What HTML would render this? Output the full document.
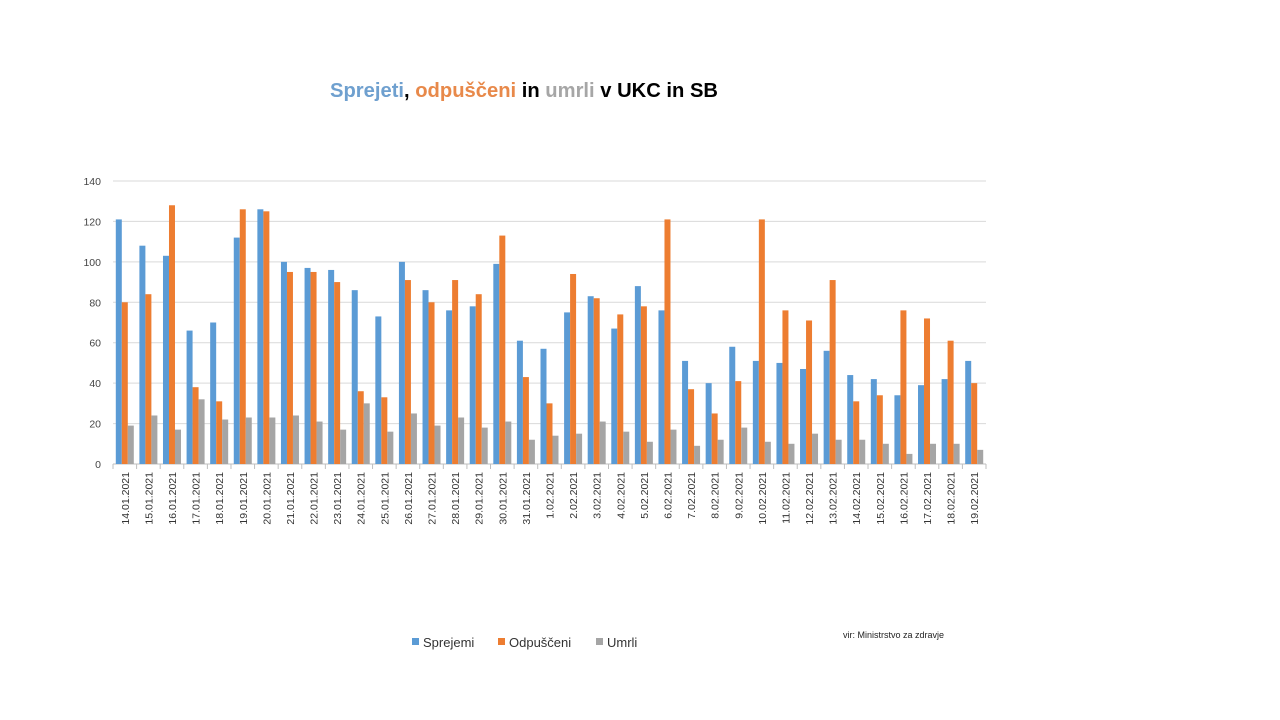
<!DOCTYPE html>
<html><head><meta charset="utf-8"><style>
body{margin:0;background:#fff;}
svg{display:block;font-family:"Liberation Sans",sans-serif;}
</style></head><body>
<svg width="1280" height="720" xmlns="http://www.w3.org/2000/svg" id="c">
<text x="524" y="97" text-anchor="middle" font-size="20" font-weight="bold" textLength="388" lengthAdjust="spacingAndGlyphs"><tspan fill="#6fa0cf">Sprejeti</tspan><tspan fill="#000">, </tspan><tspan fill="#e8894a">odpuščeni</tspan><tspan fill="#000"> in </tspan><tspan fill="#a6a6a6">umrli</tspan><tspan fill="#000"> v UKC in SB</tspan></text>
<g id="g"></g>
<rect x="412" y="638" width="7" height="7" fill="#5b9bd5"/><text x="423" y="647" font-size="13" fill="#333">Sprejemi</text>
<rect x="498" y="638" width="7" height="7" fill="#ed7d31"/><text x="509" y="647" font-size="13" fill="#333">Odpuščeni</text>
<rect x="596" y="638" width="7" height="7" fill="#a5a5a5"/><text x="607" y="647" font-size="13" fill="#333">Umrli</text>
<text x="843" y="638" font-size="9" fill="#222">vir: Ministrstvo za zdravje</text>
</svg>
<script>
var d=[["14.01.2021",121,80,19],["15.01.2021",108,84,24],["16.01.2021",103,128,17],["17.01.2021",66,38,32],["18.01.2021",70,31,22],["19.01.2021",112,126,23],["20.01.2021",126,125,23],["21.01.2021",100,95,24],["22.01.2021",97,95,21],["23.01.2021",96,90,17],["24.01.2021",86,36,30],["25.01.2021",73,33,16],["26.01.2021",100,91,25],["27.01.2021",86,80,19],["28.01.2021",76,91,23],["29.01.2021",78,84,18],["30.01.2021",99,113,21],["31.01.2021",61,43,12],["1.02.2021",57,30,14],["2.02.2021",75,94,15],["3.02.2021",83,82,21],["4.02.2021",67,74,16],["5.02.2021",88,78,11],["6.02.2021",76,121,17],["7.02.2021",51,37,9],["8.02.2021",40,25,12],["9.02.2021",58,41,18],["10.02.2021",51,121,11],["11.02.2021",50,76,10],["12.02.2021",47,71,15],["13.02.2021",56,91,12],["14.02.2021",44,31,12],["15.02.2021",42,34,10],["16.02.2021",34,76,5],["17.02.2021",39,72,10],["18.02.2021",42,61,10],["19.02.2021",51,40,7]];
var s="",L=113,R=986,Y0=464,k=(464-181)/140,w=(R-L)/d.length,cols=["#5b9bd5","#ed7d31","#a5a5a5"];
for(var v=0;v<=140;v+=20){var y=Y0-v*k;s+='<line x1="'+L+'" x2="'+R+'" y1="'+y+'" y2="'+y+'" stroke="'+(v?"#d9d9d9":"#bfbfbf")+'" stroke-width="1"/>';s+='<text x="101" y="'+(y+4)+'" text-anchor="end" font-size="10.5" fill="#444">'+v+'</text>';}
for(var i=0;i<d.length;i++){var x0=L+w*i,cx=x0+w/2;
for(var j=0;j<3;j++){var h=d[i][j+1]*k;s+='<rect x="'+(cx-9+6*j)+'" y="'+(Y0-h)+'" width="6" height="'+h+'" fill="'+cols[j]+'"/>';}
s+='<line x1="'+x0+'" x2="'+x0+'" y1="464" y2="469" stroke="#bfbfbf"/>';
s+='<text transform="translate('+(cx+4)+',472) rotate(-90)" text-anchor="end" font-size="10.5" fill="#333">'+d[i][0]+'</text>';}
s+='<line x1="'+R+'" x2="'+R+'" y1="464" y2="469" stroke="#bfbfbf"/>';
document.getElementById("g").innerHTML=s;
</script>
</body></html>
